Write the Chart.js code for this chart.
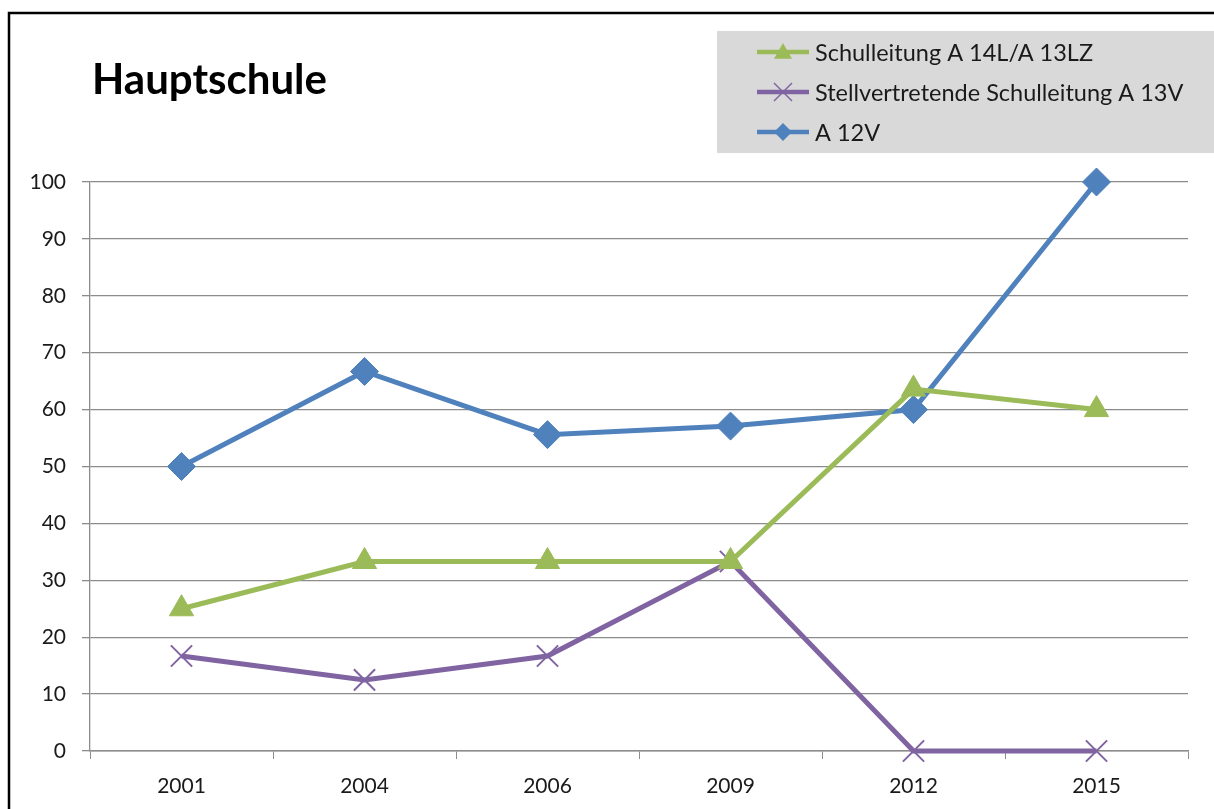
<!DOCTYPE html>
<html>
<head>
<meta charset="utf-8">
<script src="https://cdn.jsdelivr.net/npm/chart.js@4/dist/chart.umd.min.js"></script>
<style>
  html, body { margin:0; padding:0; background:#fff; }
  #wrap { width:1214px; height:809px; position:relative; }
</style>
</head>
<body>
<div id="wrap"><canvas id="c" width="1214" height="809"></canvas></div>
<script>
  // ---------- data ----------
  const years = ["2001", "2004", "2006", "2009", "2012", "2015"];
  const schulleitung = [25, 33.3, 33.3, 33.3, 63.6, 60];
  const stellvertretend = [16.7, 12.5, 16.7, 33.3, 0, 0];
  const a12v = [50, 66.7, 55.6, 57.1, 60, 100];
  const titleText = "Hauptschule";

  const FONT = "Lato, 'Open Sans', sans-serif";

  // frame, title and legend box drawn on the canvas
  const decor = {
    id: "decor",
    beforeDraw(chart){
      const ctx = chart.ctx;
      ctx.save();
      ctx.fillStyle = "#fff";
      ctx.fillRect(0, 0, chart.width, chart.height);
      ctx.strokeStyle = "#000";
      ctx.lineWidth = 2.5;
      ctx.beginPath();
      ctx.moveTo(9, 820);
      ctx.lineTo(9, 13);
      ctx.lineTo(1220, 13);
      ctx.stroke();

      ctx.fillStyle = "#000";
      ctx.font = "bold 42px " + FONT;
      ctx.textBaseline = "middle";
      ctx.fillText(titleText, 92, 80);
      ctx.restore();
    },
    afterDraw(chart){
      const ctx = chart.ctx;
      ctx.save();
      ctx.fillStyle = "#d9d9d9";
      ctx.fillRect(717, 31, 497, 122);
      const rows = [52, 92, 132];
      chart.data.datasets.forEach((ds, i)=>{
        const y = rows[i];
        ctx.strokeStyle = ds.borderColor;
        ctx.lineWidth = 4.5;
        ctx.beginPath();
        ctx.moveTo(757, y);
        ctx.lineTo(809, y);
        ctx.stroke();
        drawMarker(ctx, ds.pointStyle, 783, y, 9, ds.borderColor);
        ctx.fillStyle = "#1a1a1a";
        ctx.font = "23.5px " + FONT;
        ctx.textBaseline = "middle";
        ctx.fillText(ds.label, 815, y + 1);
      });
      ctx.restore();
    }
  };

  function drawMarker(ctx, style, x, y, r, color){
    ctx.save();
    ctx.fillStyle = color;
    ctx.strokeStyle = color;
    ctx.lineWidth = 1.5;
    ctx.beginPath();
    if(style === "triangle"){
      ctx.moveTo(x, y - r);
      ctx.lineTo(x + r, y + r * 0.75);
      ctx.lineTo(x - r, y + r * 0.75);
      ctx.closePath();
      ctx.fill();
    } else if(style === "rectRot"){
      ctx.moveTo(x, y - r);
      ctx.lineTo(x + r, y);
      ctx.lineTo(x, y + r);
      ctx.lineTo(x - r, y);
      ctx.closePath();
      ctx.fill();
    } else {
      ctx.moveTo(x - r, y - r); ctx.lineTo(x + r, y + r);
      ctx.moveTo(x + r, y - r); ctx.lineTo(x - r, y + r);
      ctx.stroke();
    }
    ctx.restore();
  }

  const grid = "#8c8c8c";

  new Chart(document.getElementById("c"), {
    type: "line",
    data: {
      labels: years,
      datasets: [
        { label: "Schulleitung A 14L/A 13LZ", data: schulleitung,
          borderColor: "#9bbb59", backgroundColor: "#9bbb59",
          borderWidth: 5, pointStyle: "triangle", pointRadius: 14,
          pointBorderWidth: 1, clip: false },
        { label: "Stellvertretende Schulleitung A 13V", data: stellvertretend,
          borderColor: "#8064a2", backgroundColor: "#8064a2",
          borderWidth: 5, pointStyle: "cross", pointRotation: 45, pointRadius: 15,
          pointBorderWidth: 2, clip: false },
        { label: "A 12V", data: a12v,
          borderColor: "#4f81bd", backgroundColor: "#4f81bd",
          borderWidth: 5, pointStyle: "rectRot", pointRadius: 14,
          pointBorderWidth: 1, clip: false }
      ]
    },
    options: {
      responsive: false,
      animation: false,
      layout: { padding: { left: 0, right: 26, top: 182, bottom: 0 } },
      plugins: { legend: { display: false }, title: { display: false }, tooltip: { enabled: false } },
      scales: {
        x: {
          offset: true,
          grid: { offset: true, drawOnChartArea: false, drawTicks: true, tickLength: 8, color: grid },
          border: { color: grid, width: 1.5 },
          ticks: { color: "#1a1a1a", font: { family: FONT, size: 21 }, padding: 15 },
          afterFit(s){ s.height = 58; }
        },
        y: {
          min: 0, max: 100,
          grid: { color: grid, lineWidth: 1.3, tickLength: 8 },
          border: { color: grid, width: 1.3 },
          ticks: { stepSize: 10, color: "#1a1a1a", font: { family: FONT, size: 21 }, padding: 16 },
          afterFit(s){ s.width = 90; }
        }
      }
    },
    plugins: [decor]
  });
</script>
</body>
</html>
